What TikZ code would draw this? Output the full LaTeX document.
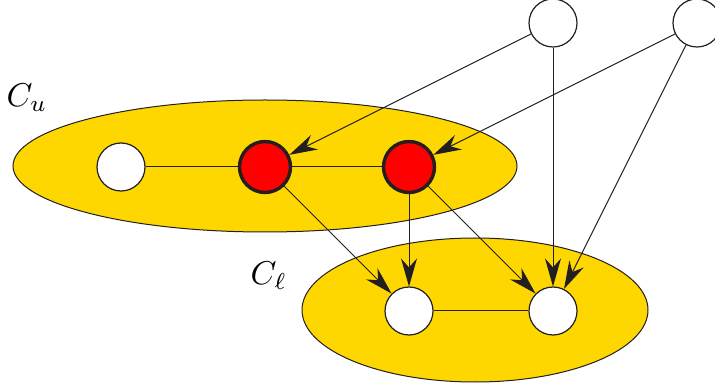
\documentclass[tikz,border=0pt]{standalone}
\usetikzlibrary{arrows.meta,shapes.geometric}
\definecolor{gold}{RGB}{255,215,0}
\definecolor{ink}{RGB}{35,31,32}
\begin{document}
\begin{tikzpicture}[x=1pt,y=-1pt,
  region/.style={ellipse,fill=gold,draw=ink,line width=1pt,inner sep=0pt},
  vtx/.style={circle,draw=ink,fill=white,line width=1.2pt,minimum size=48pt,inner sep=0pt},
  hot/.style={vtx,fill=red,line width=3.4pt,minimum size=51pt},
  edge/.style={draw=ink,line width=1pt},
  arr/.style={edge,-{Stealth[length=28pt,width=16pt,inset=9pt]}},
  lab/.style={inner sep=0pt,anchor=base west,scale=3.3}]
\useasboundingbox (0,0) rectangle (715,387);
\node[region,minimum width=504pt,minimum height=132pt] (cu) at (265,166) {};
\node[region,minimum width=346pt,minimum height=144pt] (cl) at (475,310) {};
\node[lab] (lu) at (6,107) {$C_u$};
\node[lab] (ll) at (250,285) {$C_\ell$};
\node[vtx] (t1) at (553,23) {};
\node[vtx] (t2) at (697,23) {};
\node[vtx] (u1) at (121,167) {};
\node[hot] (u2) at (265,167) {};
\node[hot] (u3) at (409,167) {};
\node[vtx] (l1) at (409,311) {};
\node[vtx] (l2) at (553,311) {};
\draw[edge] (u1) -- (u2);
\draw[edge] (u2) -- (u3);
\draw[edge] (l1) -- (l2);
\draw[arr] (t1) -- (u2);
\draw[arr] (t1) -- (l2);
\draw[arr] (t2) -- (u3);
\draw[arr] (t2) -- (l2);
\draw[arr] (u2) -- (l1);
\draw[arr] (u3) -- (l1);
\draw[arr] (u3) -- (l2);
\end{tikzpicture}
\end{document}
